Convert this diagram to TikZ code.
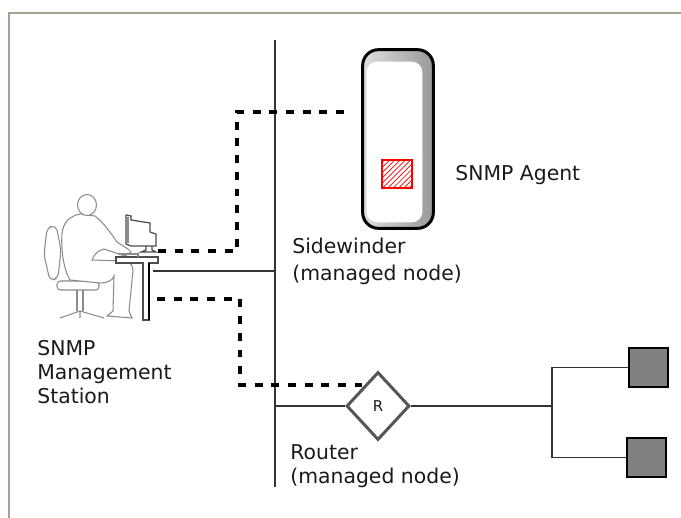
\documentclass[tikz,border=0pt]{standalone}
\usepackage{fontspec}
\setmainfont{DejaVu Sans}
\usetikzlibrary{shapes.geometric, patterns}
\definecolor{framegray}{HTML}{A8A18E}
\definecolor{figgray}{HTML}{8C8C8C}
\definecolor{hostgray}{HTML}{808080}
\definecolor{routergray}{HTML}{555555}
\definecolor{textdark}{HTML}{1A1A1A}

\begin{document}
\begin{tikzpicture}[
    x=0.02cm, y=-0.02cm,
    wire/.style={line width=0.9pt, draw=black!80},
    mgmtlink/.style={line width=1.9pt, dash pattern=on 4.5pt off 5pt},
    label/.style={font=\fontsize{11.6}{13.6}\selectfont, text=textdark, align=left, inner sep=0pt},
    host/.style={draw=black, line width=0.9pt, fill=hostgray, minimum size=0.78cm, inner sep=0pt},
    figline/.style={draw=figgray, line width=0.6pt},
    deskline/.style={draw=black!70, line width=0.7pt}
]
\useasboundingbox (0,0) rectangle (681,518);

% page frame
\draw[framegray, line width=1.2pt] (9,518) -- (9,13) -- (681,13);

% LAN backbone
\coordinate (bbtop) at (275,40);
\coordinate (bbbot) at (275,487);
\draw[wire] (bbtop) -- (bbbot);

% Sidewinder tower
\node[minimum width=1.4cm, minimum height=3.56cm, inner sep=0pt] (server) at (398,139) {};
\shade[rounded corners=9pt, left color=gray!25, right color=gray!80]
    (server.north west) rectangle (server.south east);
\fill[white, rounded corners=6pt]
    ([shift={(4,12)}]server.north west) rectangle ([shift={(-11,-6)}]server.south east);
\draw[black, line width=1.7pt, rounded corners=9pt]
    (server.north west) rectangle (server.south east);
\node[draw=red, line width=0.7pt, pattern=north east lines, pattern color=red,
      minimum width=0.6cm, minimum height=0.56cm, inner sep=0pt] (agent) at (397,174) {};

% management station: chair
\draw[figline, rounded corners=3pt] (47,228) -- (56,225) -- (61,250) -- (58,278) -- (50,281) -- (44,255) -- cycle;
\draw[figline, rounded corners=2pt] (57,281) rectangle (99,290);
\draw[figline] (77,290) -- (77,311) (83,290) -- (83,311);
\draw[figline] (80,311) -- (60,318) (80,311) -- (104,318) (80,311) -- (80,318);

% management station: operator
\draw[figline, fill=white] (80,214) .. controls (70,216) and (63,222) .. (62,234)
    .. controls (61,248) and (63,268) .. (70,280)
    -- (100,283) .. controls (108,283) and (113,280) .. (114,276)
    -- (113,311) -- (107,316) -- (132,318) -- (129,311)
    -- (133,270) .. controls (132,262) and (128,261) .. (122,261)
    -- (92,260) .. controls (94,254) and (99,250) .. (104,249)
    -- (125,256) -- (131,252) -- (128,249)
    -- (117,242) .. controls (110,232) and (103,222) .. (95,216) -- cycle;
\draw[figline, fill=white] (87,205) ellipse (0.19cm and 0.21cm);

% management station: desk and monitor
\draw[deskline, fill=white] (116,257) -- (158,257) -- (158,263) -- (149,263) -- (149,320)
    -- (143,320) -- (143,263) -- (116,263) -- cycle;
\draw[black, line width=1.1pt] (149,263) -- (149,320);
\draw[deskline, fill=white] (126,215) -- (131,216) -- (131,220) -- (150,223) -- (150,232)
    -- (156,234) -- (156,246) -- (131,246) -- (126,244) -- cycle;
\draw[figgray, line width=2pt] (127.5,217) -- (127.5,243);
\draw[deskline] (146,246) -- (146,250) -- (141,252) -- (156,252) -- (152,250) -- (152,246);
\draw[figline] (118,254) -- (138,254) -- (138,257);

% station ports
\coordinate (monitorport) at (158,251);
\coordinate (deskjack) at (153,271);
\coordinate (deskport) at (157,299);

% router and the hosts behind it
\node[diamond, draw=routergray, line width=1.7pt, minimum width=1.26cm, minimum height=1.36cm,
      inner sep=0pt, font=\fontsize{8.5}{10}\selectfont, text=textdark] (router) at (378,406) {R};
\coordinate (hub) at (552,406);
\node[host] (host1) at (648.5,367.5) {};
\node[host] (host2) at (646.5,457.5) {};

% wiring
\draw[wire] (deskjack) -- (deskjack -| bbtop);
\draw[wire] (router.west -| bbtop) -- (router.west);
\draw[wire] (router.east) -- (hub);
\draw[wire] (host1.west) -| (hub) |- (host2.west);

% SNMP management paths
\coordinate (dropA) at (237,112);
\coordinate (agentport) at (348,112);
\draw[mgmtlink] (monitorport) -| (dropA) -- (agentport);
\coordinate (dropB) at (240,385);
\draw[mgmtlink] (deskport) -| (dropB) -- (dropB -| router.north west);

% labels (base = last line)
\node[label, anchor=base west] (agentlabel) at (455,180) {SNMP Agent};
\node[label, anchor=base west] (serverlabel) at (292,280) {Sidewinder\\[1.6pt](managed node)};
\node[label, anchor=base west] (stationlabel) at (37,403) {SNMP\\Management\\Station};
\node[label, anchor=base west] (routerlabel) at (290,483) {Router\\(managed node)};

\end{tikzpicture}
\end{document}
